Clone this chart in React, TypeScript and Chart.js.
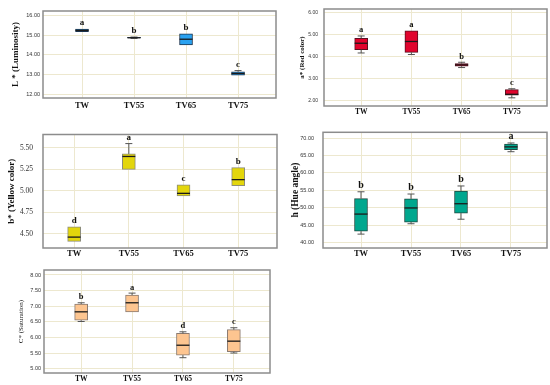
import React, { useEffect, useRef } from "react";
import { Chart, registerables } from "chart.js";
Chart.register(...registerables);

const categories = ["TW", "TV55", "TV65", "TV75"];

// L* (Luminosity)
const lQ1 = [15.18, 14.86, 14.51, 12.96];
const lQ3 = [15.32, 14.89, 15.08, 13.14];
const lMed = [15.25, 14.875, 14.8, 13.05];
const lMin = [15.18, 14.84, 14.51, 12.96];
const lMax = [15.32, 14.91, 15.08, 13.2];
const lLetters = ["a", "b", "b", "c"];
const lTicks = [12, 13, 14, 15, 16];

// a* (Red color)
const aQ1 = [4.31, 4.19, 3.56, 2.25];
const aQ3 = [4.82, 5.16, 3.68, 2.5];
const aMed = [4.6, 4.68, 3.62, 2.29];
const aMin = [4.16, 4.09, 3.5, 2.13];
const aMax = [4.93, 5.16, 3.74, 2.54];
const aLetters = ["a", "a", "b", "c"];
const aTicks = [2, 3, 4, 5, 6];

// b* (Yellow color)
const bQ1 = [4.41, 5.25, 4.94, 5.06];
const bQ3 = [4.58, 5.43, 5.07, 5.27];
const bMed = [4.46, 5.4, 4.97, 5.13];
const bMin = [4.41, 5.25, 4.94, 5.06];
const bMax = [4.58, 5.55, 5.07, 5.27];
const bLetters = ["d", "a", "c", "b"];
const bTicks = [4.5, 4.75, 5.0, 5.25, 5.5];

// h (Hue angle)
const hQ1 = [43.25, 45.85, 48.45, 66.65];
const hQ3 = [52.63, 52.53, 54.76, 68.32];
const hMed = [48.17, 49.93, 51.14, 67.48];
const hMin = [42.41, 45.39, 46.69, 66.09];
const hMax = [54.58, 53.93, 56.25, 68.6];
const hLetters = ["b", "b", "b", "a"];
const hTicks = [40, 45, 50, 55, 60, 65, 70];

// C* (Saturation)
const cQ1 = [6.55, 6.82, 5.43, 5.54];
const cQ3 = [7.07, 7.36, 6.13, 6.25];
const cMed = [6.82, 7.11, 5.75, 5.88];
const cMin = [6.51, 6.82, 5.35, 5.5];
const cMax = [7.11, 7.42, 6.18, 6.31];
const cLetters = ["b", "a", "d", "c"];
const cTicks = [5, 5.5, 6, 6.5, 7, 7.5, 8];

type PanelProps = {
  left: number; top: number; width: number; height: number;
  yWidth: number; xHeight: number; padTop: number; padRight: number;
  xMin: number; xMax: number; yMin: number; yMax: number;
  q1: number[]; q3: number[]; med: number[]; lo: number[]; hi: number[];
  letters: string[]; ticks: number[]; decimals: number;
  title: string; titleFont: any; titlePad: number;
  tickFont: any; tickPad: number; xFont: any; xPad: number;
  fill: string; stroke: string; letterFont: string;
};

function Panel(p: PanelProps) {
  const ref = useRef<HTMLCanvasElement | null>(null);
  useEffect(() => {
    if (!ref.current) return;
    const extras = {
      id: "boxExtras",
      afterDatasetsDraw(chart: any) {
        const { ctx, scales } = chart;
        const x = scales.x, y = scales.y;
        ctx.save();
        categories.forEach((_, i) => {
          const cx = x.getPixelForValue(i);
          const capW = 3.5;
          ctx.strokeStyle = "#555";
          ctx.lineWidth = 1;
          if (p.hi[i] > p.q3[i]) {
            ctx.beginPath();
            ctx.moveTo(cx, y.getPixelForValue(p.q3[i]));
            ctx.lineTo(cx, y.getPixelForValue(p.hi[i]));
            ctx.moveTo(cx - capW, y.getPixelForValue(p.hi[i]));
            ctx.lineTo(cx + capW, y.getPixelForValue(p.hi[i]));
            ctx.stroke();
          }
          if (p.lo[i] < p.q1[i]) {
            ctx.beginPath();
            ctx.moveTo(cx, y.getPixelForValue(p.q1[i]));
            ctx.lineTo(cx, y.getPixelForValue(p.lo[i]));
            ctx.moveTo(cx - capW, y.getPixelForValue(p.lo[i]));
            ctx.lineTo(cx + capW, y.getPixelForValue(p.lo[i]));
            ctx.stroke();
          }
          ctx.strokeStyle = "#1a1a1a";
          ctx.lineWidth = 1.3;
          ctx.beginPath();
          ctx.moveTo(cx - 6.5, y.getPixelForValue(p.med[i]));
          ctx.lineTo(cx + 6.5, y.getPixelForValue(p.med[i]));
          ctx.stroke();
          ctx.fillStyle = "#111";
          ctx.font = p.letterFont;
          ctx.textAlign = "center";
          ctx.textBaseline = "bottom";
          ctx.fillText(p.letters[i], cx, y.getPixelForValue(p.hi[i]) - 1.5);
        });
        ctx.restore();
      },
      afterDraw(chart: any) {
        const { ctx, chartArea: a } = chart;
        ctx.save();
        ctx.strokeStyle = "#8c8c8c";
        ctx.lineWidth = 1.5;
        ctx.strokeRect(a.left, a.top, a.right - a.left, a.bottom - a.top);
        ctx.restore();
      },
    };
    const chart = new Chart(ref.current, {
      type: "bar",
      data: {
        datasets: [
          {
            data: categories.map((_, i) => ({ x: i, y: [p.q1[i], p.q3[i]] })) as any,
            backgroundColor: p.fill,
            borderColor: p.stroke,
            borderWidth: 1,
            borderSkipped: false,
            barThickness: 13,
          },
        ],
      },
      options: {
        animation: false,
        responsive: false,
        layout: { padding: { top: p.padTop, right: p.padRight, left: 0, bottom: 0 } },
        plugins: { legend: { display: false }, tooltip: { enabled: false } },
        scales: {
          x: {
            type: "linear",
            offset: false,
            min: p.xMin,
            max: p.xMax,
            afterBuildTicks: (s: any) => { s.ticks = categories.map((_, i) => ({ value: i })); },
            afterFit: (s: any) => { s.height = p.xHeight; },
            ticks: {
              callback: (v: any) => categories[v as number] ?? "",
              font: p.xFont, color: "#111", padding: p.xPad, maxRotation: 0, autoSkip: false,
            },
            grid: { color: "#ede8cf", lineWidth: 1, drawTicks: false, offset: false },
            border: { display: false },
          },
          y: {
            type: "linear",
            min: p.yMin,
            max: p.yMax,
            afterBuildTicks: (s: any) => { s.ticks = p.ticks.map((v) => ({ value: v })); },
            afterFit: (s: any) => { s.width = p.yWidth; },
            ticks: {
              callback: (v: any) => Number(v).toFixed(p.decimals),
              font: p.tickFont, color: "#333", padding: p.tickPad,
            },
            grid: { color: "#ede8cf", lineWidth: 1, drawTicks: false },
            border: { display: false },
            title: { display: true, text: p.title, font: p.titleFont, color: "#111", padding: p.titlePad },
          },
        },
      },
      plugins: [extras],
    } as any);
    return () => chart.destroy();
  }, []);
  return (
    <canvas
      ref={ref}
      width={p.width}
      height={p.height}
      style={{ position: "absolute", left: p.left, top: p.top, width: p.width, height: p.height }}
    />
  );
}

const serif = "'Liberation Serif', 'DejaVu Serif', serif";
const sans = "'Liberation Sans', Arial, sans-serif";
const smallTick = { family: sans, size: 5.5 };

export default function App() {
  return (
    <div style={{ position: "absolute", left: 0, top: 0, width: 550, height: 385 }}>
      <Panel
        left={0} top={0} width={282} height={115} yWidth={43} xHeight={17} padTop={11} padRight={6}
        xMin={-0.75} xMax={3.73} yMin={11.8} yMax={16.24}
        q1={lQ1} q3={lQ3} med={lMed} lo={lMin} hi={lMax} letters={lLetters} ticks={lTicks} decimals={2}
        title="L * (Luminosity)" titleFont={{ family: serif, size: 9, weight: "bold" }} titlePad={10}
        tickFont={smallTick} tickPad={3} xFont={{ family: serif, size: 8.5, weight: "bold" }} xPad={3}
        fill="#2aa2f0" stroke="#1c3550" letterFont={`bold 9px ${serif}`}
      />
      <Panel
        left={280} top={0} width={270} height={122} yWidth={44} xHeight={16} padTop={7} padRight={3}
        xMin={-0.74} xMax={3.7} yMin={1.76} yMax={6.15}
        q1={aQ1} q3={aQ3} med={aMed} lo={aMin} hi={aMax} letters={aLetters} ticks={aTicks} decimals={2}
        title="a* (Red color)" titleFont={{ family: serif, size: 7, weight: "bold" }} titlePad={17.5}
        tickFont={{ family: sans, size: 5 }} tickPad={6} xFont={{ family: serif, size: 7.5, weight: "bold" }} xPad={2}
        fill="#e1042d" stroke="#5a1020" letterFont={`bold 8.5px ${serif}`}
      />
      <Panel
        left={0} top={120} width={282} height={145} yWidth={43} xHeight={17} padTop={9} padRight={5}
        xMin={-0.57} xMax={3.71} yMin={4.333} yMax={5.656}
        q1={bQ1} q3={bQ3} med={bMed} lo={bMin} hi={bMax} letters={bLetters} ticks={bTicks} decimals={2}
        title="b* (Yellow color)" titleFont={{ family: serif, size: 9, weight: "bold" }} titlePad={6.5}
        tickFont={{ family: serif, size: 7.5 }} tickPad={10} xFont={{ family: serif, size: 8.5, weight: "bold" }} xPad={1}
        fill="#e3d60c" stroke="#8c8c7a" letterFont={`bold 9px ${serif}`}
      />
      <Panel
        left={280} top={120} width={270} height={145} yWidth={43} xHeight={17} padTop={9} padRight={3}
        xMin={-0.76} xMax={3.72} yMin={38.42} yMax={71.67}
        q1={hQ1} q3={hQ3} med={hMed} lo={hMin} hi={hMax} letters={hLetters} ticks={hTicks} decimals={2}
        title="h (Hue angle)" titleFont={{ family: serif, size: 9.5, weight: "bold" }} titlePad={10.3}
        tickFont={smallTick} tickPad={9} xFont={{ family: serif, size: 8.5, weight: "bold" }} xPad={1}
        fill="#00a78e" stroke="#1f4a42" letterFont={`bold 10px ${serif}`}
      />
      <Panel
        left={0} top={262} width={280} height={123} yWidth={44} xHeight={12} padTop={8} padRight={10}
        xMin={-0.73} xMax={3.71} yMin={4.86} yMax={8.16}
        q1={cQ1} q3={cQ3} med={cMed} lo={cMin} hi={cMax} letters={cLetters} ticks={cTicks} decimals={2}
        title="C* (Saturation)" titleFont={{ family: serif, size: 7 }} titlePad={16.8}
        tickFont={smallTick} tickPad={3} xFont={{ family: serif, size: 7.5, weight: "bold" }} xPad={2}
        fill="#fdc590" stroke="#8a7a70" letterFont={`bold 8.5px ${serif}`}
      />
    </div>
  );
}
